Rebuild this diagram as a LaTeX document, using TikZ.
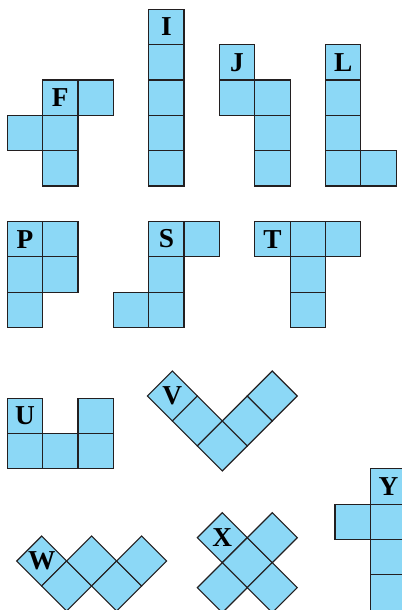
\documentclass[tikz,border=0pt]{standalone}
\usepackage{fontspec}
\setmainfont{Liberation Serif}
\usetikzlibrary{shapes.geometric}
\definecolor{tileblue}{RGB}{140,216,246}
\definecolor{tileedge}{RGB}{35,31,32}
\tikzset{
  tile/.style={
    rectangle,
    draw=tileedge,
    fill=tileblue,
    line width=0.9pt,
    minimum size=1cm,
    inner sep=0pt,
    outer sep=0pt,
    anchor=north west,
    font=\fontsize{22}{26}\selectfont\bfseries
  },
  tilted tile/.style={
    tile,
    diamond,
    aspect=1,
    minimum size=1.4142cm,
    anchor=center
  }
}

\begin{document}
\begin{tikzpicture}[x=1cm,y=-1cm]
  \useasboundingbox (-0.2065,-0.263) rectangle (11.165,16.993);
  \clip (-0.2065,-0.263) rectangle (11.165,16.993);

  % F
  \node[tile] (F1) at (1,2) {F};
  \node[tile] (F2) at (2,2) {};
  \node[tile] (F3) at (0,3) {};
  \node[tile] (F4) at (1,3) {};
  \node[tile] (F5) at (1,4) {};
  % I
  \node[tile] (I0) at (4,0) {I};
  \foreach \r in {1,...,4} {
    \node[tile] (I\r) at (4,\r) {};
  }
  % J
  \node[tile] (J1) at (6,1) {J};
  \node[tile] (J2) at (6,2) {};
  \foreach \r in {2,3,4} {
    \node[tile] (J\r b) at (7,\r) {};
  }
  % L
  \node[tile] (L1) at (9,1) {L};
  \foreach \r in {2,3,4} {
    \node[tile] (L\r) at (9,\r) {};
  }
  \node[tile] (L5) at (10,4) {};

  % P
  \node[tile] (P1) at (0,6) {P};
  \node[tile] (P2) at (1,6) {};
  \node[tile] (P3) at (0,7) {};
  \node[tile] (P4) at (1,7) {};
  \node[tile] (P5) at (0,8) {};
  % S
  \node[tile] (S1) at (4,6) {S};
  \node[tile] (S2) at (5,6) {};
  \node[tile] (S3) at (4,7) {};
  \node[tile] (S4) at (3,8) {};
  \node[tile] (S5) at (4,8) {};
  % T
  \node[tile] (T1) at (7,6) {T};
  \node[tile] (T2) at (8,6) {};
  \node[tile] (T3) at (9,6) {};
  \node[tile] (T4) at (8,7) {};
  \node[tile] (T5) at (8,8) {};

  % U
  \node[tile] (U1) at (0,11) {U};
  \node[tile] (U2) at (2,11) {};
  \foreach \c in {0,1,2} {
    \node[tile] (U\c b) at (\c,12) {};
  }
  % V
  \node[tilted tile] (V1) at (4.668,10.939) {V};
  \node[tilted tile] (V2) at (5.375,11.646) {};
  \node[tilted tile] (V3) at (6.082,12.353) {};
  \node[tilted tile] (V4) at (6.789,11.646) {};
  \node[tilted tile] (V5) at (7.496,10.939) {};

  % W
  \node[tilted tile] (W1) at (0.973,15.607) {W};
  \node[tilted tile] (W2) at (1.680,16.314) {};
  \node[tilted tile] (W3) at (2.387,15.607) {};
  \node[tilted tile] (W4) at (3.094,16.314) {};
  \node[tilted tile] (W5) at (3.801,15.607) {};
  % X
  \node[tilted tile] (X1) at (6.082,14.947) {X};
  \node[tilted tile] (X2) at (6.789,15.654) {};
  \node[tilted tile] (X3) at (7.496,14.947) {};
  \node[tilted tile] (X4) at (6.082,16.361) {};
  \node[tilted tile] (X5) at (7.496,16.361) {};
  % Y
  \node[tile] (Y1) at (10.28,13) {Y};
  \node[tile] (Y2) at (9.27,14) {};
  \foreach \r in {14,15,16} {
    \node[tile] (Y\r) at (10.28,\r) {};
  }
\end{tikzpicture}
\end{document}
